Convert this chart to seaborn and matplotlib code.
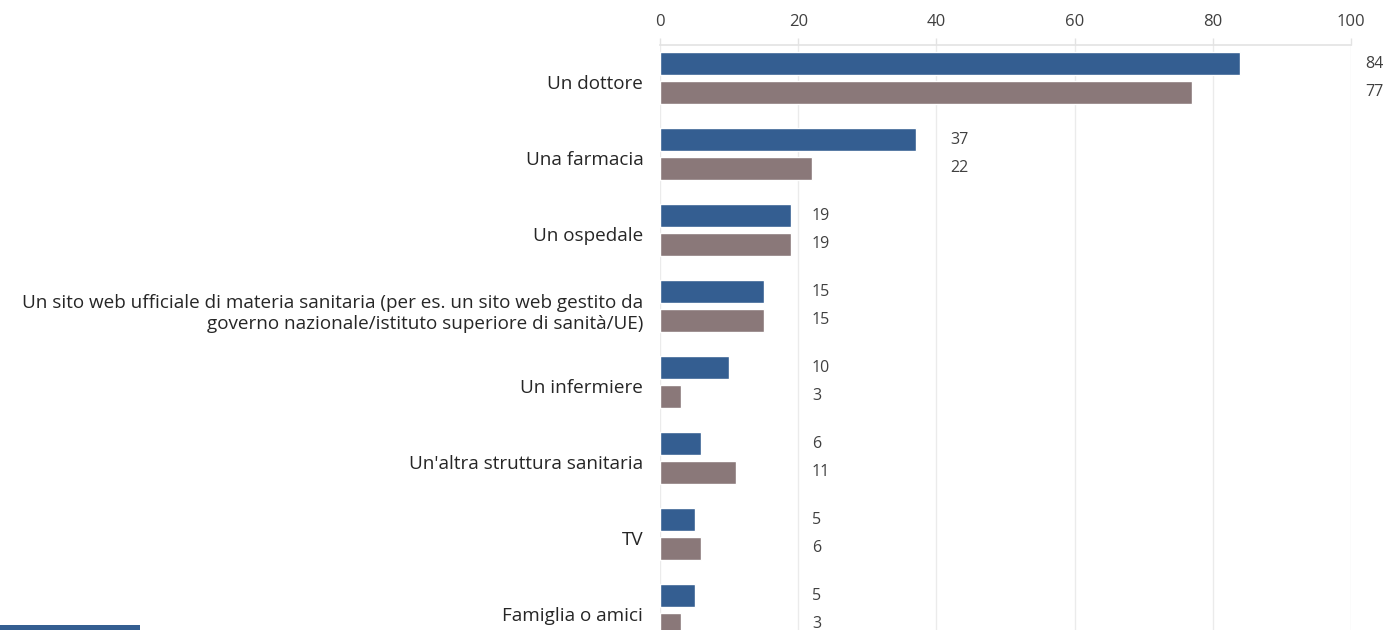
import numpy as np
import pandas as pd
import matplotlib
matplotlib.use("Agg")
import matplotlib.pyplot as plt
import matplotlib.transforms as mtransforms
import seaborn as sns
from matplotlib.patches import Rectangle

categories = [
    "Un dottore",
    "Una farmacia",
    "Un ospedale",
    "Un sito web ufficiale di materia sanitaria (per es. un sito web gestito da\ngoverno nazionale/istituto superiore di sanità/UE)",
    "Un infermiere",
    "Un'altra struttura sanitaria",
    "TV",
    "Famiglia o amici",
]
series_a = [84, 37, 19, 15, 10, 6, 5, 5]
series_b = [77, 22, 19, 15, 3, 11, 6, 3]
series_names = ["Serie A", "Serie B"]
colors = ["#345e91", "#8a7879"]
x_ticks = [0, 20, 40, 60, 80, 100]

df = pd.DataFrame({
    "categoria": categories * 2,
    "serie": [series_names[0]] * len(categories) + [series_names[1]] * len(categories),
    "valore": series_a + series_b,
})

sns.set_style("white")
plt.rcParams["font.family"] = ["Open Sans", "DejaVu Sans"]

fig = plt.figure(figsize=(13.99, 6.30), dpi=100)
# axes: left at 660px, right at 1351px, top at 45px, runs below the figure bottom
ax = fig.add_axes([660 / 1399, (630 - 648) / 630, (1351 - 660) / 1399, 603 / 630])

sns.barplot(data=df, y="categoria", x="valore", hue="serie", palette=colors,
            order=categories, hue_order=series_names, width=0.76, gap=0.2,
            orient="h", ax=ax, legend=False, saturation=1)

ax.set_xlim(0, 100)
ax.set_ylim(7.5, -0.434)
ax.set_xticks(x_ticks)
ax.xaxis.tick_top()
ax.tick_params(axis="x", length=5, width=1, color="#e3e3e3", labelsize=12,
               labelcolor="#404040", pad=6)
ax.tick_params(axis="y", length=0, labelsize=13.6, labelcolor="#262626", pad=12)
shift = mtransforms.ScaledTranslation(0, -4 / 100, fig.dpi_scale_trans)
for lbl in ax.get_yticklabels():
    lbl.set_horizontalalignment("right")
    lbl.set_multialignment("right")
    lbl.set_transform(lbl.get_transform() + shift)
ax.grid(axis="x", color="#ebebeb", linewidth=1)
ax.set_axisbelow(True)
ax.set_xlabel("")
ax.set_ylabel("")
for side in ["left", "right", "bottom"]:
    ax.spines[side].set_visible(False)
ax.spines["top"].set_color("#e3e3e3")
ax.spines["top"].set_linewidth(1.2)

# value labels, left-aligned past the next multiple of 20 of the group max
for i in range(len(categories)):
    label_x = np.ceil(max(series_a[i], series_b[i]) / 20) * 20 + 2
    for val, offset in [(series_a[i], -0.19), (series_b[i], 0.19)]:
        ax.text(label_x, i + offset, str(val), va="center", ha="left",
                fontsize=11.5, color="#404040", clip_on=False)

fig.patches.append(Rectangle((0, 0), 140 / 1399, 5 / 630, transform=fig.transFigure,
                             facecolor="#345e91", edgecolor="none"))

fig.savefig("out.png", dpi=100)
